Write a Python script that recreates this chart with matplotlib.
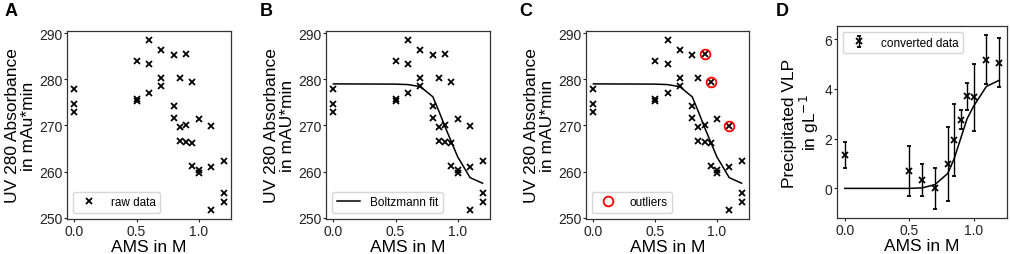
import matplotlib
matplotlib.use("Agg")
import matplotlib.pyplot as plt
import numpy as np

plt.rcParams["font.family"] = ["Liberation Sans", "DejaVu Sans"]

# AMS-Konzentrationen, je drei Messungen
ams = [0.0, 0.5, 0.6, 0.7, 0.8, 0.85, 0.9, 0.95, 1.0, 1.1, 1.2]
raw_1 = [278.0, 284.0, 288.6, 286.4, 285.2, 280.2, 285.4, 279.4, 271.4, 269.8, 262.2]
raw_2 = [274.6, 275.7, 283.2, 280.2, 274.2, 269.7, 270.1, 266.1, 260.4, 261.1, 255.3]
raw_3 = [272.9, 275.4, 277.1, 278.6, 271.6, 266.7, 266.4, 261.2, 259.7, 251.6, 253.4]

# Boltzmann-Fit an den Messpunkten
fit_abs = [279.0, 278.95, 278.85, 278.4, 276.2, 273.0, 269.6, 266.4, 263.2, 258.7, 257.5]

# Ausreisser
out_x = [0.9, 0.95, 1.1]
out_y = [285.4, 279.4, 269.8]

# umgerechnete Daten
vlp = [1.33, 0.69, 0.34, 0.0, 0.98, 1.94, 2.76, 3.70, 3.66, 5.18, 5.06]
vlp_err = [0.53, 1.0, 0.63, 0.84, 1.48, 1.45, 0.39, 0.53, 1.35, 1.0, 0.97]
fit_vlp = [0.0, 0.0, 0.02, 0.15, 0.6, 1.2, 2.0, 2.8, 3.3, 4.1, 4.35]

W, H = 1010, 255
fig = plt.figure(figsize=(W / 100, H / 100), dpi=100)


def box(l, t, r, b):
    return [l / W, 1 - b / H, (r - l) / W, (b - t) / H]


def style(ax):
    for s in ax.spines.values():
        s.set_color("#333333")
        s.set_linewidth(0.9)
    ax.tick_params(direction="out", length=2, width=0.8, labelsize=10,
                   pad=1.5, colors="#222222")
    ax.set_xlabel("AMS in M", fontsize=12.5, labelpad=1)


xs = np.repeat(ams, 3)
ys = np.column_stack([raw_1, raw_2, raw_3]).ravel()

axes = [fig.add_axes(box(67, 32, 231, 220)),
        fig.add_axes(box(326, 32, 490, 220)),
        fig.add_axes(box(586, 32, 749, 220))]

for i, ax in enumerate(axes):
    handle, = ax.plot(xs, ys, "x", color="black", ms=4, mew=1.3, label="raw data")
    if i >= 1:
        handle, = ax.plot(ams, fit_abs, "-", color="black", lw=1.1, label="Boltzmann fit")
    if i == 2:
        handle, = ax.plot(out_x, out_y, "o", mfc="none", mec="red", ms=7, mew=1.3,
                          label="outliers")
    ax.legend(handles=[handle], loc="lower left", fontsize=8.5, frameon=True,
              edgecolor="#cccccc")
    ax.set_yticks([250, 260, 270, 280, 290])
    ax.set_xticks([0.0, 0.5, 1.0])
    ax.set_ylabel("UV 280 Absorbance\nin mAU*min" if i else "UV 280 Absorbance\nin mAu*min",
                  fontsize=12.5, labelpad=2, linespacing=1.1)
    style(ax)

axd = fig.add_axes(box(837, 27, 1007, 219))
axd.errorbar(ams, vlp, yerr=vlp_err, fmt="x", color="black", ms=4, mew=1.3,
             elinewidth=1.0, capsize=1.5, label="converted data")
axd.plot(ams, fit_vlp, "-", color="black", lw=1.1)
axd.legend(loc="upper left", fontsize=8.5, edgecolor="#cccccc")
axd.set_yticks([0, 2, 4, 6])
axd.set_xticks([0.0, 0.5, 1.0])
axd.set_ylabel("Precipitated VLP\nin gL$^{-1}$", fontsize=12.5, labelpad=2,
               linespacing=1.1)
style(axd)

for lab, px in zip("ABCD", [5, 260, 519, 776]):
    fig.text(px / W, 1 - 12 / H, lab, fontsize=13, fontweight="bold", va="center")

fig.savefig("out.png", dpi=100)
